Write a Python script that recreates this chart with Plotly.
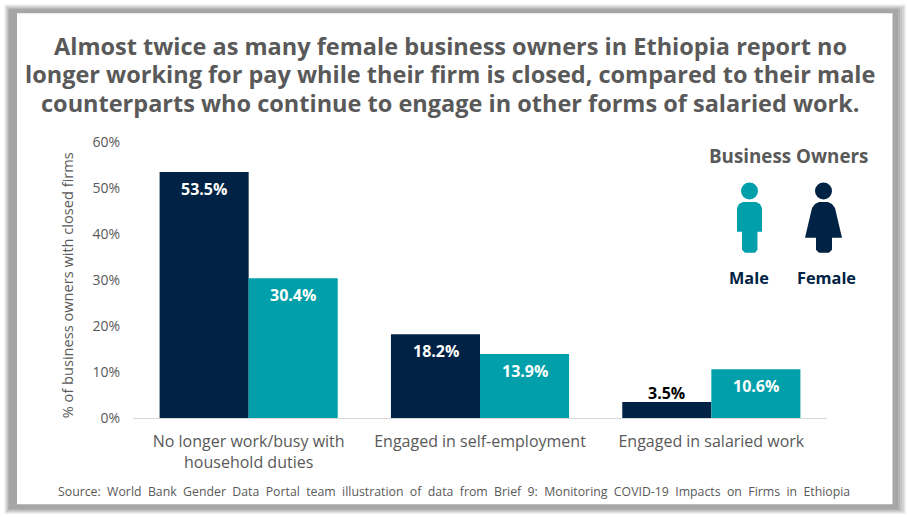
import plotly.graph_objects as go

WIDTH = 907
HEIGHT = 517
LEFT, RIGHT, TOP, BOTTOM = 133, 827, 142, 418.5

categories = ["No longer work/busy with<br>household duties", "Engaged in self-employment", "Engaged in salaried work"]
navy_values = [53.5, 18.2, 3.5]
teal_values = [30.4, 13.9, 10.6]
y_ticks = [0, 10, 20, 30, 40, 50, 60]
y_tick_labels = ["0%", "10%", "20%", "30%", "40%", "50%", "60%"]

title_lines = [
    "Almost twice as many female business owners in Ethiopia report no",
    "longer working for pay while their firm is closed, compared to their male",
    "counterparts who continue to engage in other forms of salaried work.",
]
y_title = "% of business owners with closed firms"
source_text = "Source:  World  Bank  Gender  Data  Portal  team  illustration  of  data  from  Brief  9:  Monitoring  COVID-19  Impacts  on  Firms  in  Ethiopia"

NAVY = "#002244"
TEAL = "#009fa9"
GREY = "#595959"
FONT = "Open Sans"


# page pixels to paper coordinates
def px(x):
    return (x - LEFT) / (RIGHT - LEFT)


def py(y):
    return (BOTTOM - y) / (BOTTOM - TOP)


def rect(x0, y0, x1, y1, color):
    return dict(type="rect", xref="paper", yref="paper", x0=px(x0), x1=px(x1), y0=py(y0), y1=py(y1),
                fillcolor=color, line_width=0, layer="below")


def circle(cx, cy, r, color):
    return dict(type="circle", xref="paper", yref="paper", x0=px(cx - r), x1=px(cx + r), y0=py(cy - r), y1=py(cy + r),
                fillcolor=color, line_width=0, layer="below")


def outline(points, color):
    d = "M" + " L".join(f"{px(x):.5f},{py(y):.5f}" for x, y in points) + " Z"
    return dict(type="path", xref="paper", yref="paper", path=d, fillcolor=color, line_width=0, layer="below")


def text(x, y, s, size, color, bold=False, angle=0):
    return dict(xref="paper", yref="paper", x=px(x), y=py(y), text=f"<b>{s}</b>" if bold else s, showarrow=False,
                xanchor="center", yanchor="middle", textangle=angle, font=dict(family=FONT, size=size, color=color))


fig = go.Figure()
fig.add_bar(x=categories, y=navy_values, marker_color=NAVY, marker_line_width=0, offsetgroup="a", hoverinfo="skip")
fig.add_bar(x=categories, y=teal_values, marker_color=TEAL, marker_line_width=0, offsetgroup="b", hoverinfo="skip")

shapes = [
    # frame with soft shadow
    rect(4, 4, 906, 515, "#f4f4f4"),
    rect(5, 5, 905, 514, "#e4e4e4"),
    rect(6, 6, 904, 513, "#d4d4d4"),
    rect(7, 7, 902, 512, "#c4c4c4"),
    rect(8, 8, 900, 511, "#b4b4b4"),
    rect(9, 9, 898, 510, "#a6a6a6"),
    rect(17, 13, 892.5, 505, "#ffffff"),
    # male icon
    circle(749.5, 191, 8.5, TEAL),
    outline([(737, 232), (737, 208), (739, 204), (743, 202), (756, 202), (760, 204), (762, 208), (762, 232),
             (757.5, 232), (757.5, 250), (755, 253), (745, 253), (742, 250), (742, 232)], TEAL),
    # female icon
    circle(823.5, 191, 8.5, NAVY),
    outline([(805, 238), (812, 208), (815, 204), (819, 202), (828, 202), (832, 204), (835, 208), (842, 238),
             (832, 238), (832, 250), (829, 253), (819, 253), (816, 250), (816, 238)], NAVY),
]

annotations = [text(450, 45.5 + i * 28.5, line, 23.5, GREY, bold=True) for i, line in enumerate(title_lines)]
annotations += [
    text(66.5, 286, y_title, 14.6, GREY, angle=-90),
    text(788.5, 156, "Business Owners", 18.8, GREY, bold=True),
    text(749, 278, "Male", 16.3, NAVY, bold=True),
    text(826.5, 278, "Female", 16.3, NAVY, bold=True),
    text(453.5, 492, source_text, 12.3, GREY),
]

# value labels, hung from the top of each bar
for series, xshift in ((navy_values, -44.5), (teal_values, 44.5)):
    for cat, val in zip(categories, series):
        small = val < 5
        annotations.append(dict(
            x=cat, y=val, xref="x", yref="y", text=f"<b>{val:.1f}%</b>", showarrow=False,
            xshift=xshift, yshift=9 if small else -17, xanchor="center", yanchor="middle",
            font=dict(family=FONT, size=16, color="#000000" if small else "#ffffff"),
        ))

fig.update_layout(
    width=WIDTH,
    height=HEIGHT,
    margin=dict(l=LEFT, r=WIDTH - RIGHT, t=TOP, b=HEIGHT - BOTTOM, pad=0),
    paper_bgcolor="#ffffff",
    plot_bgcolor="rgba(0,0,0,0)",
    barmode="group",
    bargap=0.23,
    bargroupgap=0,
    showlegend=False,
    shapes=shapes,
    annotations=annotations,
    font=dict(family=FONT, color=GREY),
)
fig.update_xaxes(showline=True, linecolor="#d9d9d9", linewidth=1, ticks="", showgrid=False,
                 tickfont=dict(size=16, color=GREY), ticklabelstandoff=9)
fig.update_yaxes(range=[0, 60], tickmode="array", tickvals=y_ticks, ticktext=y_tick_labels, showgrid=False,
                 zeroline=False, showline=False, tickfont=dict(size=14, color=GREY), ticks="", ticklabelstandoff=12)

fig.write_html("out.html", config=dict(displayModeBar=False),
               post_script="document.body.style.margin='0';document.body.style.overflow='hidden';")
